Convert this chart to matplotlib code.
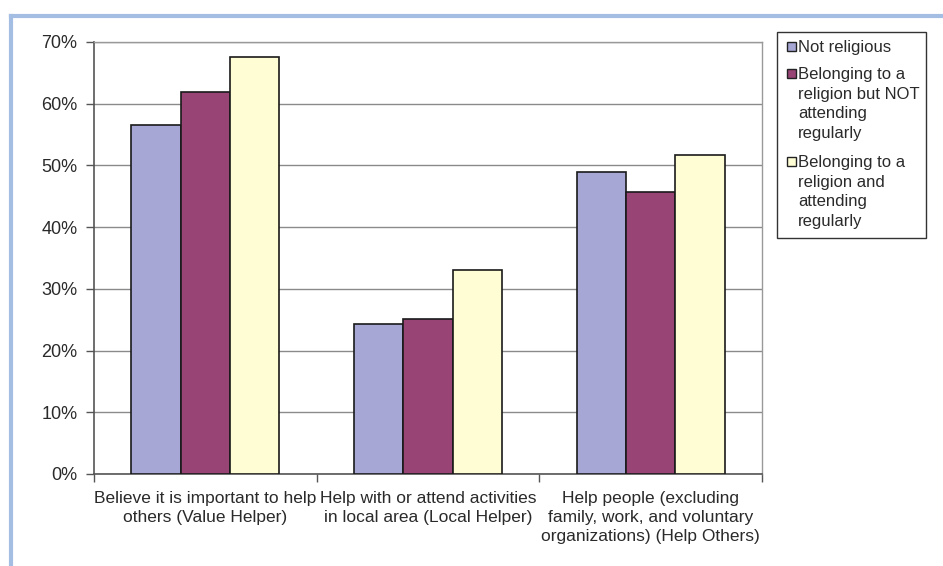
import matplotlib
matplotlib.use("Agg")
import matplotlib.pyplot as plt
import numpy as np
from matplotlib.lines import Line2D
from matplotlib.patches import Rectangle

categories = [
    "Believe it is important to help\nothers (Value Helper)",
    "Help with or attend activities\nin local area (Local Helper)",
    "Help people (excluding\nfamily, work, and voluntary\norganizations) (Help Others)",
]
series_names = [
    "Not religious",
    "Belonging to a\nreligion but NOT\nattending\nregularly",
    "Belonging to a\nreligion and\nattending\nregularly",
]
not_religious = [56.6, 24.3, 48.9]
belong_not_attending = [61.9, 25.1, 45.7]
belong_attending = [67.6, 33.1, 51.7]
y_ticks = [0, 10, 20, 30, 40, 50, 60, 70]
y_tick_labels = ["0%", "10%", "20%", "30%", "40%", "50%", "60%", "70%"]

colors = ["#A7A7D5", "#984575", "#FFFDD4"]
series = [not_religious, belong_not_attending, belong_attending]

plt.rcParams['font.family'] = ['Liberation Sans', 'DejaVu Sans']
TXT = "#2a2a2a"

fig = plt.figure(figsize=(9.43, 5.66), dpi=100)
W, H = 943, 566
ax = fig.add_axes([94 / W, 1 - 474 / H, (762 - 94) / W, (474 - 42) / H])

x = np.arange(len(categories))
bw = 0.222
for i, (vals, c) in enumerate(zip(series, colors)):
    ax.bar(x + (i - 1) * bw, vals, width=bw, color=c, edgecolor="#1a1a1a",
           linewidth=1.2, zorder=3, label=series_names[i])

ax.set_xlim(-0.5, 2.5)
ax.set_ylim(0, 70)
ax.set_yticks(y_ticks)
ax.set_yticklabels(y_tick_labels, fontsize=13, color=TXT)
ax.yaxis.grid(True, color="#8a8a8a", linewidth=1.0, zorder=0)
ax.set_axisbelow(True)

ax.set_xticks(x)
ax.set_xticklabels(categories, fontsize=12.5, color=TXT, linespacing=1.35)
ax.tick_params(axis='x', length=0, pad=12)
ax.tick_params(axis='y', length=6, color="#555555", width=1.0, pad=6)
ax.set_xticks([-0.5, 0.5, 1.5, 2.5], minor=True)
ax.tick_params(axis='x', which='minor', length=6, color="#555555", width=1.0)

for s in ["left", "bottom"]:
    ax.spines[s].set_color("#555555")
    ax.spines[s].set_linewidth(1.2)
for s in ["right", "top"]:
    ax.spines[s].set_color("#999999")
    ax.spines[s].set_linewidth(1.0)

# legend drawn manually (handles aligned with first text line)
fig.add_artist(Rectangle((777 / W, 1 - 238 / H), (926 - 777) / W, (238 - 32) / H,
                         transform=fig.transFigure, facecolor="white",
                         edgecolor="#333333", linewidth=1.0))
entry_tops = [40, 67, 155]
for name, c, top in zip(series_names, colors, entry_tops):
    fig.text(798 / W, 1 - top / H, name, fontsize=12, color=TXT, va="top",
             ha="left", linespacing=1.38)
    fig.add_artist(Rectangle((787 / W, 1 - (top + 11) / H), 9 / W, 9 / H,
                             transform=fig.transFigure, facecolor=c,
                             edgecolor="#222222", linewidth=1.0))

# light blue panel border (top and left)
fig.add_artist(Line2D([11 / W, 1.0], [1 - 16 / H, 1 - 16 / H], color="#A3BDE3",
                      linewidth=3, transform=fig.transFigure))
fig.add_artist(Line2D([11 / W, 11 / W], [1 - 16 / H, 0], color="#A3BDE3",
                      linewidth=3, transform=fig.transFigure))

fig.savefig("out.png", dpi=100)
